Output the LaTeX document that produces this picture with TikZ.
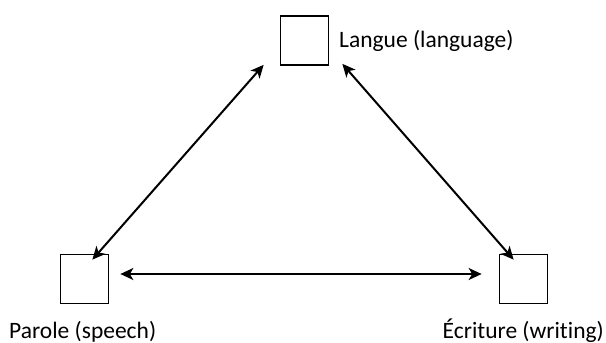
\documentclass[tikz,border=0pt]{standalone}
\usepackage{fontspec}
\setmainfont{Carlito}[Ligatures=NoCommon]
\usetikzlibrary{arrows.meta}
\begin{document}
\begin{tikzpicture}[x=1pt,y=-1pt,
  box/.style={draw,line width=1.7pt,minimum width=48pt,minimum height=49pt,inner sep=0pt},
  lbl/.style={font=\fontsize{23.5}{28}\selectfont,inner sep=0pt},
  link/.style={line width=2pt,{Stealth[length=13pt,width=12pt,inset=3.5pt]}-{Stealth[length=13pt,width=12pt,inset=3.5pt]}}]
\useasboundingbox (0,0) rectangle (606,343);
\node[box] (top) at (304.5,40.5) {};
\node[box] (left) at (84.5,279) {};
\node[box] (right) at (523.5,279) {};
\node[lbl,anchor=base west] (ltop) at (339,47.5) {Langue (language)};
\node[lbl,anchor=base west] (lleft) at (9,338.5) {Parole (speech)};
\node[lbl,anchor=base east] (lright) at (604,338.5) {Écriture (writing)};
\draw[link] ([xshift=-16pt,yshift=1pt]top.south west) -- ([xshift=-17pt,yshift=-6pt]left.north east);
\draw[link] ([xshift=13pt,yshift=2pt]top.south east) -- ([xshift=15pt,yshift=-6pt]right.north west);
\draw[link] ([xshift=11pt,yshift=5pt]left.east) -- ([xshift=-17pt,yshift=5pt]right.west);
\end{tikzpicture}
\end{document}
